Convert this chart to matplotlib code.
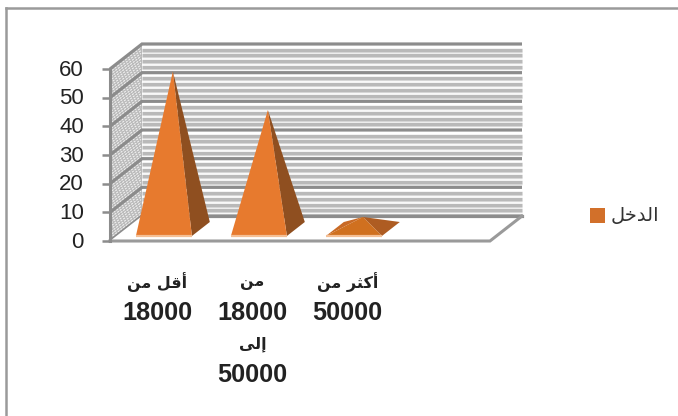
#!/usr/bin/env python3
"""oblique 3d pyramid chart, income brackets"""

import matplotlib

matplotlib.use("Agg")
import matplotlib.pyplot as plt
from matplotlib.patches import Polygon, Rectangle

W, H = 678, 416

# arabic is stored in display order with presentation forms, matplotlib does no shaping
categories = [
    ["\ufee6\ufee3 \ufede\ufed7\ufe83", "18000"],
    ["\ufee6\ufee3", "18000", "\ufef0\ufedf\ufe87", "50000"],
    ["\ufee6\ufee3 \ufeae\ufe9c\ufedb\ufe83", "50000"],
]
values = [55, 41.5, 4.2]
legend_label = "\ufede\ufea7\ufeaa\ufedf\ufe8d"
y_ticks = [0, 10, 20, 30, 40, 50, 60]
minor_ticks = [v for v in range(0, 61, 2) if v % 10]

PX_X = 95  # pixels per category
PX_Y = 172 / 60  # pixels per value unit
DEPTH_X = 32 / PX_X  # category units for full floor depth
DEPTH_Y = 25 / PX_Y  # value units for full floor depth
ORANGE = "#e77a2e"
DARK = "#8f4f20"
GRID = "#8c8c8c"
TEXT = "#222222"

fig = plt.figure(figsize=(W / 100, H / 100), dpi=100)
ax = fig.add_axes([110 / W, 1 - 241 / H, 380 / W, 172 / H])
ax.set_xlim(0, 4)
ax.set_ylim(0, 60)
ax.axis("off")


def proj(x, y, d=0.0):
    return (x + d * DEPTH_X, y + d * DEPTH_Y)


def poly(points, **kw):
    ax.add_patch(Polygon(points, closed=True, clip_on=False, **kw))


# back wall stripes, each with a pale band under it
for v in minor_ticks:
    x0, y0 = proj(0, v, 1)
    x1, y1 = proj(4, v, 1)
    ax.plot([x0, x1], [y0, y1], color="#b9b9b9", lw=2.4, clip_on=False, solid_capstyle="butt", zorder=1)
    ax.plot([x0, x1], [y0 - 0.7, y1 - 0.7], color="#dcdcdc", lw=1.0, clip_on=False, solid_capstyle="butt", zorder=0.9)

# side wall, dashed light hatch over grey
poly([proj(0, 0), proj(0, 0, 1), proj(0, 60, 1), proj(0, 60)], facecolor="#b8b8b8", edgecolor="none", zorder=1)
for v in range(1, 60):
    ax.plot(*zip(proj(0, v, 0.03), proj(0, v, 0.97)), color="#f0f0f0", lw=0.8,
            linestyle=(v % 3, (2, 1)), clip_on=False, zorder=1.5)

# major gridlines on wall and side
for v in y_ticks:
    a, b, c = proj(0, v), proj(0, v, 1), proj(4, v, 1)
    ax.plot([a[0], b[0], c[0]], [a[1], b[1], c[1]], color=GRID, lw=2.3, clip_on=False,
            solid_joinstyle="miter", solid_capstyle="butt", zorder=2)

# floor
poly([proj(0, 0), proj(4, 0), proj(4, 0, 1), proj(0, 0, 1)], facecolor="white", edgecolor="none", zorder=2.5)
ax.plot(*zip(proj(0, 0, 1), proj(4, 0, 1)), color=GRID, lw=2.3, clip_on=False, zorder=2.6)
ax.plot(*zip(proj(0, 0), proj(4, 0), proj(4, 0, 1)), color="#9a9a9a", lw=2.2, clip_on=False,
        solid_joinstyle="miter", zorder=2.6)

# axis line and ticks
ax.plot(*zip(proj(0, 0), proj(0, 60)), color=GRID, lw=2.2, clip_on=False, zorder=3)
ax.hlines(y_ticks, -8 / PX_X, 0, color=GRID, lw=1.8, clip_on=False, zorder=3)
for v in y_ticks:
    ax.text(-26 / PX_X, v - 1 / PX_Y, str(v), ha="right", va="center", fontsize=16, color=TEXT,
            family="Liberation Sans")

# pyramids
half = 28 / PX_X
d0, d1 = 0.2, 0.76
for i, v in enumerate(values):
    cx = i + 0.5
    apex = proj(cx, v, (d0 + d1) / 2)
    fl, fr = proj(cx - half, 0, d0), proj(cx + half, 0, d0)
    br = proj(cx + half, 0, d1)
    bl = proj(cx - half, 0, d1)
    poly([fr, br, apex], facecolor=DARK if v > 10 else "#ae5c22", edgecolor="none", zorder=4)
    if v < 10:
        poly([fl, bl, apex], facecolor="#c96a26", edgecolor="none", zorder=4)
    poly([fl, fr, apex], facecolor=ORANGE if v > 10 else "#d0701f", edgecolor="none", zorder=5)
    ax.plot(*zip(fl, fr), color="#f4bf95", lw=1.6, clip_on=False, solid_capstyle="butt", zorder=6)

    # labels line by line, the arabic font runs wider than the digits
    for k, line in enumerate(categories[i]):
        is_digits = line.isdigit()
        ax.text(cx, -(41 + 31 * k) / PX_Y, line, ha="center", va="center",
                fontsize=18.2 if is_digits else 11.5, fontweight="bold", color=TEXT,
                family="Liberation Sans" if is_digits else "DejaVu Sans")

# legend, in figure pixels
fig.add_artist(Rectangle((590 / W, 1 - 223 / H), 15 / W, 15 / H, transform=fig.transFigure,
                         facecolor="#d2702a", edgecolor="none"))
fig.text(611 / W, 1 - 215 / H, legend_label, ha="left", va="center", fontsize=14, color="#333333",
         family="DejaVu Sans")

# chart frame, only left and top are visible
fig.add_artist(plt.Line2D([6 / W, 6 / W], [0, 1 - 8 / H], transform=fig.transFigure, color="#9a9a9a", lw=1.8))
fig.add_artist(plt.Line2D([6 / W, 1], [1 - 8 / H, 1 - 8 / H], transform=fig.transFigure, color="#9a9a9a", lw=1.8))

fig.savefig("out.png", dpi=100)
